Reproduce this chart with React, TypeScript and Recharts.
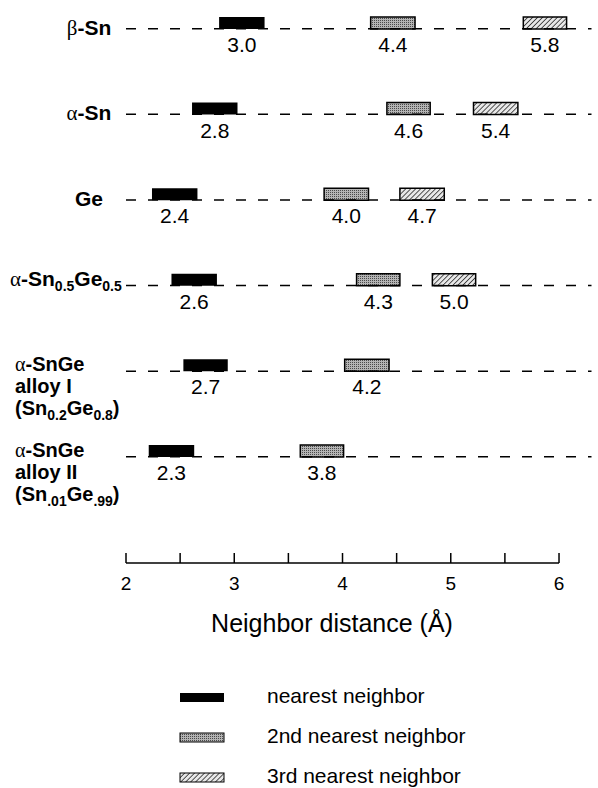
import React from "react";
import { BarChart, Bar, XAxis, YAxis, ReferenceLine, Legend, LabelList } from "recharts";

// row labels: each line is a list of [text, kind] (g = greek, b = bold, s = subscript)
const rowLabels: [string, string][][][] = [
  [[["β", "g"], ["-Sn", "b"]]],
  [[["α", "g"], ["-Sn", "b"]]],
  [[["Ge", "b"]]],
  [[["α", "g"], ["-Sn", "b"], ["0.5", "s"], ["Ge", "b"], ["0.5", "s"]]],
  [
    [["α", "g"], ["-SnGe", "b"]],
    [["alloy I", "b"]],
    [["(Sn", "b"], ["0.2", "s"], ["Ge", "b"], ["0.8", "s"], [")", "b"]],
  ],
  [
    [["α", "g"], ["-SnGe", "b"]],
    [["alloy II", "b"]],
    [["(Sn", "b"], [".01", "s"], ["Ge", "b"], [".99", "s"], [")", "b"]],
  ],
];

// labelled distances (Å)
const nearest = [3.0, 2.8, 2.4, 2.6, 2.7, 2.3];
const second = [4.4, 4.6, 4.0, 4.3, 4.2, 3.8];
const third = [5.8, 5.4, 4.7, 5.0, null, null];

// bar extents as drawn (Å)
const nearestSpan = [[2.86, 3.28], [2.61, 3.03], [2.24, 2.66], [2.42, 2.84], [2.53, 2.94], [2.21, 2.63]];
const secondSpan = [[4.26, 4.67], [4.41, 4.81], [3.83, 4.24], [4.13, 4.53], [4.02, 4.43], [3.61, 4.01]];
const thirdSpan = [[5.67, 6.07], [5.21, 5.62], [4.53, 4.94], [4.83, 5.23], null, null];

const xTicks = [2, 2.5, 3, 3.5, 4, 4.5, 5, 5.5, 6];
const legendNames = ["nearest neighbor", "2nd nearest neighbor", "3rd nearest neighbor"];

const rows = rowLabels.map((_, i) => ({
  row: i,
  n: nearestSpan[i], nL: nearest[i],
  s: secondSpan[i], sL: second[i],
  t: thirdSpan[i], tL: third[i],
}));

const FONT = "'Liberation Sans', Arial, sans-serif";
const fills = ["#000", "url(#stip)", "url(#hatch)"];

function Patterns() {
  return (
    <defs>
      <pattern id="stip" width="2" height="2" patternUnits="userSpaceOnUse">
        <rect width="2" height="2" fill="#b4b4b4" />
        <rect width="1" height="1" fill="#4a4a4a" />
      </pattern>
      <pattern id="hatch" width="3.5" height="3.5" patternUnits="userSpaceOnUse" patternTransform="rotate(45)">
        <rect width="3.5" height="3.5" fill="#e8e8e8" />
        <line x1="0" y1="0" x2="0" y2="3.5" stroke="#111" strokeWidth="1.4" />
      </pattern>
    </defs>
  );
}

function RowTick(props: any) {
  const { y, payload } = props;
  const i = payload.value;
  const lines = rowLabels[i];
  if (!lines) return null;
  const multi = lines.length > 1;
  const x0 = i < 3 ? 89 : i === 3 ? 10 : 15;
  const anchor = i < 3 ? "middle" : "start";
  const base = i < 3 ? 12 : 6;
  const fs = multi ? 20 : 21;
  return (
    <g>
      {lines.map((parts, li) => {
        let prevSub = false;
        return (
          <text key={li} x={x0} y={y + base + li * 22} textAnchor={anchor} fontFamily={FONT} fontSize={fs} fontWeight="bold" fill="#000">
            {parts.map(([txt, kind], k) => {
              const sub = kind === "s";
              const dy = sub && !prevSub ? 5 : !sub && prevSub ? -5 : 0;
              prevSub = sub;
              return (
                <tspan key={k} dy={dy}
                  fontSize={sub ? 14 : fs}
                  fontWeight={kind === "g" ? "normal" : "bold"}
                  fontFamily={kind === "g" ? "'Liberation Serif', serif" : FONT}>
                  {txt}
                </tspan>
              );
            })}
          </text>
        );
      })}
    </g>
  );
}

function XTick(props: any) {
  const { x, y, payload } = props;
  const v = payload.value;
  return (
    <g>
      <line x1={x} x2={x} y1={y} y2={y - 10} stroke="#000" strokeWidth={1.5} />
      {Number.isInteger(v) && (
        <text x={x} y={y + 27} textAnchor="middle" fontFamily={FONT} fontSize={19} fill="#000">{v}</text>
      )}
    </g>
  );
}

const valueLabel = (props: any) => {
  const { x, y, width, value } = props;
  if (value == null || !isFinite(x)) return null;
  return (
    <text x={x + width / 2} y={y + 35} textAnchor="middle" fontFamily={FONT} fontSize={21} fill="#000">
      {Number(value).toFixed(1)}
    </text>
  );
};

const renderLegend = () => (
  <svg width={598} height={110} style={{ display: "block" }}>
    <Patterns />
    {legendNames.map((name, i) => (
      <g key={name}>
        <rect x={180} y={13 + i * 40} width={44} height={9} fill={fills[i]}
          stroke={i === 0 ? "none" : "#000"} strokeWidth={1} />
        <text x={267} y={23 + i * 40} fontFamily={FONT} fontSize={21} fill="#000">{name}</text>
      </g>
    ))}
  </svg>
);

const dashLine = (p: any) => (
  <line x1={p.x1} y1={p.y1 + 6} x2={p.x2} y2={p.y2 + 6} stroke="#000" strokeWidth={1.5} strokeDasharray="10 12" />
);

export default function App() {
  const yMin = -0.266, yMax = 6.311;
  return (
    <div style={{ position: "absolute", left: 0, top: 0, width: 598, height: 788, background: "#fff" }}>
      <BarChart width={598} height={788} data={rows} layout="vertical"
        margin={{ top: 0, right: 6.5, bottom: 145, left: 0 }} barSize={12} barGap={-12}>
        <Patterns />
        <XAxis type="number" domain={[2, 6.3]} ticks={xTicks} interval={0} allowDataOverflow
          tickLine={false} axisLine={false} tickSize={0} tickMargin={0} height={80} tick={<XTick />}
          label={(lp: any) => {
            const vb = lp.viewBox || {};
            return (
              <text x={332} y={(vb.y || 563) + 69} textAnchor="middle" fontFamily={FONT} fontSize={25} fill="#000">
                Neighbor distance (Å)
              </text>
            );
          }} />
        <YAxis type="number" dataKey="row" domain={[yMin, yMax]} allowDataOverflow
          ticks={[0, 1, 2, 3, 4, 5]} interval={0} width={126} tickLine={false} axisLine={false} tick={<RowTick />} />
        {rows.map((r) => (
          <ReferenceLine key={r.row} segment={[{ x: 2, y: r.row }, { x: 6.3, y: r.row }]} ifOverflow="visible" shape={dashLine} />
        ))}
        <ReferenceLine segment={[{ x: 2, y: yMax }, { x: 6, y: yMax }]} ifOverflow="visible" stroke="#000" strokeWidth={1.5} />
        <Bar dataKey="n" name={legendNames[0]} fill={fills[0]} isAnimationActive={false}>
          <LabelList dataKey="nL" content={valueLabel} />
        </Bar>
        <Bar dataKey="s" name={legendNames[1]} fill={fills[1]} stroke="#000" strokeWidth={1.5} isAnimationActive={false}>
          <LabelList dataKey="sL" content={valueLabel} />
        </Bar>
        <Bar dataKey="t" name={legendNames[2]} fill={fills[2]} stroke="#000" strokeWidth={1.5} isAnimationActive={false}>
          <LabelList dataKey="tL" content={valueLabel} />
        </Bar>
        <Legend layout="vertical" align="center" verticalAlign="middle" content={renderLegend}
          wrapperStyle={{ top: 680, left: 0, width: 598 }} />
      </BarChart>
    </div>
  );
}
